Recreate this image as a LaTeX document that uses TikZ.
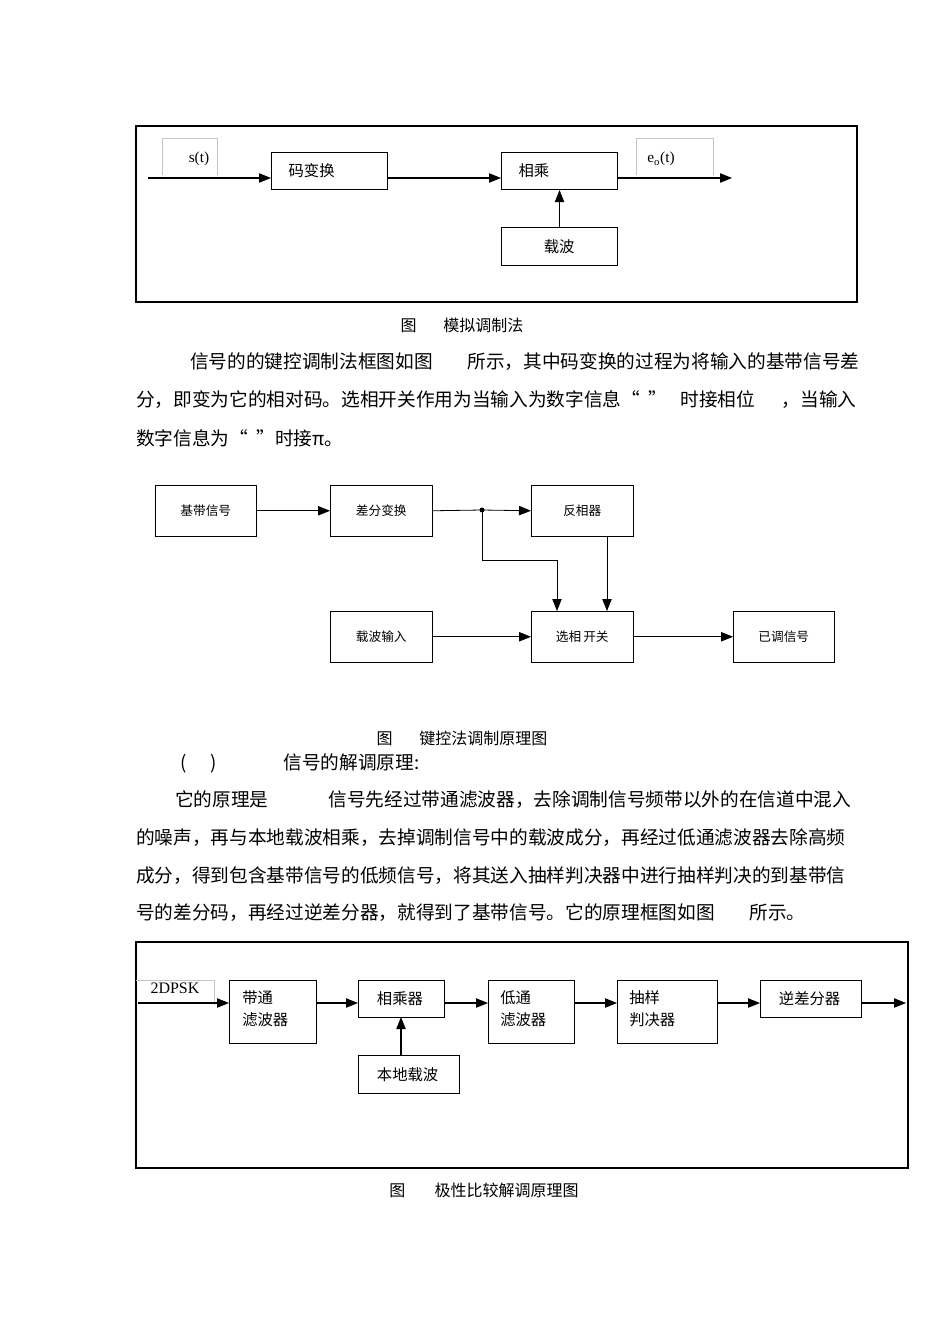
\documentclass[tikz,border=0pt]{standalone}
\usepackage{fontspec}
\setmainfont{Liberation Serif}
\newfontfamily\cjk{Noto Sans CJK SC}
\usetikzlibrary{arrows.meta}
\tikzset{
  box/.style={draw,thick,anchor=north west,inner sep=0pt},
  lbl/.style={font=\cjk\fontsize{11.5}{13}\selectfont,anchor=west,inner sep=0pt},
  sl/.style={font=\cjk\fontsize{9.5}{11}\selectfont,inner sep=0pt},
  par/.style={font=\cjk\fontsize{14}{16}\selectfont,anchor=west,inner sep=0pt},
  ar/.style={thick,-{Triangle[length=9pt,width=7pt]}},
  gbox/.style={draw=gray!45,thin}
}
\begin{document}
\begin{tikzpicture}[x=0.75pt,y=-0.75pt]
\useasboundingbox[fill=white] (0,0) rectangle (950,1344);
% ---------- figure 1
\draw[thick] (136,126) rectangle (857,302);
\draw[gbox] (162,175) -- (162,138) -- (217,138) -- (217,175);
\draw[gbox] (636,175) -- (636,138) -- (713,138) -- (713,175);
\node[font=\fontsize{11.5}{13}\selectfont] (st) at (199,159) {s(t)};
\node[font=\fontsize{11.5}{13}\selectfont] (eo) at (661,159) {e$_{\mathrm o}$(t)};
\node[box,minimum width=87pt,minimum height=27.75pt] (mb) at (271,152) {};
\node[lbl] at ([xshift=13]mb.west) {码变换};
\node[box,minimum width=87pt,minimum height=27.75pt] (xc) at (501,152) {};
\node[lbl] at ([xshift=13]xc.west) {相乘};
\node[box,minimum width=87pt,minimum height=28.5pt] (zb) at (501,227) {};
\node[lbl] at ([xshift=-12]zb.center) {载波};
\coordinate (in1) at (148,178);
\coordinate (out1) at (732,178);
\draw[ar] (in1) -- (in1 -| mb.west);
\draw[ar] (mb.east |- in1) -- (xc.west |- in1);
\draw[ar] (xc.east |- in1) -- (out1);
\draw[ar] (zb.north) -- (xc.south);
\node[font=\cjk\fontsize{12}{14}\selectfont] at (462,325) {图\hspace{20pt}模拟调制法};
% paragraph 1
\node[par] at (190,362) {信号的的键控调制法框图如图\hspace{26pt}所示，其中码变换的过程为将输入的基带信号差};
\node[par] at (136,400) {分，即变为它的相对码。选相开关作用为当输入为数字信息“\ \ ”\hspace{10pt}时接相位\hspace{20pt}，当输入};
\node[par] at (136,438) {数字信息为“\ \ ”时接π。};
% ---------- figure 2
\node[box,thin,minimum width=75.75pt,minimum height=38.25pt] (jd) at (155,485) {};
\node[sl] at (jd.center) {基带信号};
\node[box,thin,minimum width=76.5pt,minimum height=38.25pt] (cf) at (330,485) {};
\node[sl] at (cf.center) {差分变换};
\node[box,thin,minimum width=76.5pt,minimum height=38.25pt] (fx) at (531,485) {};
\node[sl] at (fx.center) {反相器};
\node[box,thin,minimum width=76.5pt,minimum height=38.25pt] (zr) at (330,611) {};
\node[sl] at (zr.center) {载波输入};
\node[box,thin,minimum width=76.5pt,minimum height=38.25pt] (xx) at (531,611) {};
\node[sl] at (xx.center) {选相\,开关};
\node[box,thin,minimum width=75.75pt,minimum height=38.25pt] (yt) at (733,611) {};
\node[sl] at (yt.center) {已调信号};
\coordinate (dot) at (482,510);
\coordinate (bend) at (482,560);
\draw[ar,semithick] (jd.east) -- (cf.west);
\draw[semithick] (cf.east) -- (dot);
\draw[ar,semithick] (dot) -- (fx.west);
\fill (dot) circle (2.5);
\draw[ar,semithick] (dot) -- (bend) -- (557,560) -- (557,611);
\draw[ar,semithick] (607,536) -- (607,611);
\draw[ar,semithick] (zr.east) -- (xx.west);
\draw[ar,semithick] (xx.east) -- (yt.west);
\node[font=\cjk\fontsize{12}{14}\selectfont] at (462,738) {图\hspace{20pt}键控法调制原理图};
\node[par] at (180,763) {(\hspace{18pt})\hspace{50pt}信号的解调原理:};
\node[par] at (175,800) {它的原理是\hspace{45pt}信号先经过带通滤波器，去除调制信号频带以外的在信道中混入};
\node[par] at (136,838) {的噪声，再与本地载波相乘，去掉调制信号中的载波成分，再经过低通滤波器去除高频};
\node[par] at (136,876) {成分，得到包含基带信号的低频信号，将其送入抽样判决器中进行抽样判决的到基带信};
\node[par] at (136,913) {号的差分码，再经过逆差分器，就得到了基带信号。它的原理框图如图\hspace{26pt}所示。};
% ---------- figure 3
\draw[thick] (136,942) rectangle (908,1168);
\draw[gbox] (136,980) -- (214,980) -- (214,1005);
\node[font=\fontsize{12}{14}\selectfont] at (175,988) {2DPSK};
\node[box,minimum width=65.25pt,minimum height=47.25pt] (bt) at (229,980) {};
\node[lbl,anchor=north west,align=left,font=\cjk\fontsize{11.5}{17}\selectfont] at (242,990) {带通\\滤波器};
\node[box,minimum width=64.5pt,minimum height=27.75pt] (xcq) at (358,980) {};
\node[lbl] at ([xshift=14]xcq.west) {相乘器};
\node[box,minimum width=64.5pt,minimum height=47.25pt] (dt) at (488,980) {};
\node[lbl,anchor=north west,align=left,font=\cjk\fontsize{11.5}{17}\selectfont] at (500,990) {低通\\滤波器};
\node[box,minimum width=75pt,minimum height=47.25pt] (cy) at (617,980) {};
\node[lbl,anchor=north west,align=left,font=\cjk\fontsize{11.5}{17}\selectfont] at (629,990) {抽样\\判决器};
\node[box,minimum width=75.75pt,minimum height=27.75pt] (nc) at (760,980) {};
\node[lbl] at ([xshift=14]nc.west) {逆差分器};
\node[box,minimum width=75.75pt,minimum height=28.5pt] (bd) at (358,1055) {};
\node[lbl] at ([xshift=14]bd.west) {本地载波};
\coordinate (in3) at (138,1003);
\coordinate (out3) at (906,1003);
\draw[ar] (in3) -- (in3 -| bt.west);
\draw[ar] (bt.east |- in3) -- (xcq.west |- in3);
\draw[ar] (xcq.east |- in3) -- (dt.west |- in3);
\draw[ar] (dt.east |- in3) -- (cy.west |- in3);
\draw[ar] (cy.east |- in3) -- (nc.west |- in3);
\draw[ar] (nc.east |- in3) -- (out3);
\draw[ar] (401,1055) -- (401,1017);
\node[font=\cjk\fontsize{12}{14}\selectfont] at (484,1190) {图\hspace{22pt}极性比较解调原理图};
\end{tikzpicture}
\end{document}
